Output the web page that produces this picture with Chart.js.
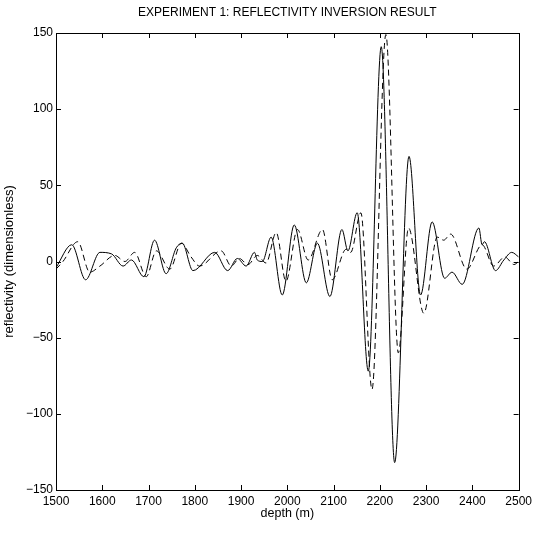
<!DOCTYPE html>
<html>
<head>
<meta charset="utf-8">
<script src="https://cdn.jsdelivr.net/npm/chart.js@4/dist/chart.umd.min.js"></script>
<style>
  html, body { margin: 0; padding: 0; background: #fff; }
  #wrap { width: 536px; height: 534px; }
</style>
</head>
<body>
<div id="wrap"><canvas id="chart" width="536" height="534"></canvas></div>
<script>
// values
const depthSolid = [1500, 1534, 1564, 1595, 1620, 1645, 1663, 1690, 1713, 1738, 1760, 1773, 1796,
  1843, 1871, 1892, 1911, 1929, 1935, 1946, 1965, 1989, 2015, 2041, 2065, 2092, 2118, 2131,
  2151, 2175, 2203, 2232, 2263, 2288, 2313, 2340, 2356, 2378, 2414, 2421, 2426, 2450, 2468, 2485, 2500]
const reflSolid = [-4, 11, -12, 6, 5, -3, 1, -10, 14, -8, 9, 12, -6,
  6, -6, 2, -3, 6, 1, 0, 16, -22, 24, -14, 12, -23, 21, 7,
  32, -72, 141, -132, 69, -22, 26, -11, -7, -15, 22, 11, 13, -6, 1, 6, 3]

const depthDashed = [1500, 1515, 1547, 1573, 1595, 1627, 1649, 1670, 1695, 1717, 1746, 1771, 1792, 1810,
  1857, 1879, 1896, 1915, 1935, 1954, 1976, 1997, 2022, 2045, 2076, 2097, 2127, 2137,
  2159, 2183, 2213, 2240, 2262, 2295, 2324, 2338, 2353, 2388, 2421, 2446, 2470, 2490, 2500]
const reflDashed = [-5, 0, 13, -7, -3, 4, 0, 6, -10, 7, -5, 12, 3, -3,
  7, -3, 2, -2, 4, -1, 19, -13, 21, 1, 21, -12, 8, 6,
  32, -84, 149, -60, 22, -34, 16, 14, 18, -5, 11, -3, 3, -2, 0]

const xTicks = [1500, 1600, 1700, 1800, 1900, 2000, 2100, 2200, 2300, 2400, 2500]
const yTicks = [-150, -100, -50, 0, 50, 100, 150]

const FONT = "'Liberation Sans', Arial, Helvetica, sans-serif"

function pairs(xs, ys) {
  return xs.map((x, i) => ({ x, y: ys[i] }))
}

// matlab style box with inward ticks on all four sides
const boxTicks = {
  id: "boxTicks",
  afterDraw(chart) {
    const { ctx, chartArea: a, scales } = chart
    const len = 5
    ctx.save()
    ctx.strokeStyle = "#000"
    ctx.lineWidth = 1
    ctx.strokeRect(Math.round(a.left) + 0.5, Math.round(a.top) + 0.5,
      Math.round(a.right - a.left), Math.round(a.bottom - a.top))
    ctx.beginPath()
    xTicks.forEach(v => {
      const px = Math.round(scales.x.getPixelForValue(v)) + 0.5
      ctx.moveTo(px, a.bottom); ctx.lineTo(px, a.bottom - len)
      ctx.moveTo(px, a.top); ctx.lineTo(px, a.top + len)
    })
    yTicks.forEach(v => {
      const py = Math.round(scales.y.getPixelForValue(v)) + 0.5
      ctx.moveTo(a.left, py); ctx.lineTo(a.left + len, py)
      ctx.moveTo(a.right, py); ctx.lineTo(a.right - len, py)
    })
    ctx.stroke()
    ctx.fillStyle = "#000"
    ctx.font = "12px " + FONT
    ctx.textAlign = "center"
    ctx.textBaseline = "middle"
    ctx.fillText("EXPERIMENT 1: REFLECTIVITY INVERSION RESULT", (a.left + a.right) / 2, 13)
    ctx.restore()
  }
}

new Chart(document.getElementById("chart"), {
  type: "line",
  data: {
    datasets: [
      {
        data: pairs(depthSolid, reflSolid),
        borderColor: "#000",
        borderWidth: 1,
        pointRadius: 0,
        cubicInterpolationMode: "monotone"
      },
      {
        data: pairs(depthDashed, reflDashed),
        borderColor: "#000",
        borderWidth: 1,
        borderDash: [6, 4],
        pointRadius: 0,
        cubicInterpolationMode: "monotone"
      }
    ]
  },
  options: {
    responsive: false,
    animation: false,
    layout: { padding: { top: 33, right: 16, left: 0, bottom: 0 } },
    plugins: { legend: { display: false }, tooltip: { enabled: false }, title: { display: false } },
    scales: {
      x: {
        type: "linear",
        min: 1500,
        max: 2500,
        afterBuildTicks: s => { s.ticks = xTicks.map(v => ({ value: v })) },
        afterFit: s => { s.height = 44 },
        grid: { display: false, drawTicks: false },
        border: { display: false },
        ticks: {
          color: "#000", padding: 4, maxRotation: 0, font: { family: FONT, size: 12 },
          callback: v => String(v)
        },
        title: { display: true, text: "depth (m)", color: "#000", padding: { top: 0, bottom: 13 }, font: { family: FONT, size: 12.5 } }
      },
      y: {
        min: -150,
        max: 150,
        afterBuildTicks: s => { s.ticks = yTicks.map(v => ({ value: v })) },
        afterFit: s => { s.width = 56 },
        grid: { display: false, drawTicks: false },
        border: { display: false },
        ticks: {
          color: "#000", padding: 3, font: { family: FONT, size: 12 },
          callback: v => String(v).replace("-", "\u2212")
        },
        title: { display: true, text: "reflectivity (dimensionless)", color: "#000", padding: { top: 2, bottom: 0 }, font: { family: FONT, size: 13 } }
      }
    }
  },
  plugins: [boxTicks]
})
</script>
</body>
</html>
